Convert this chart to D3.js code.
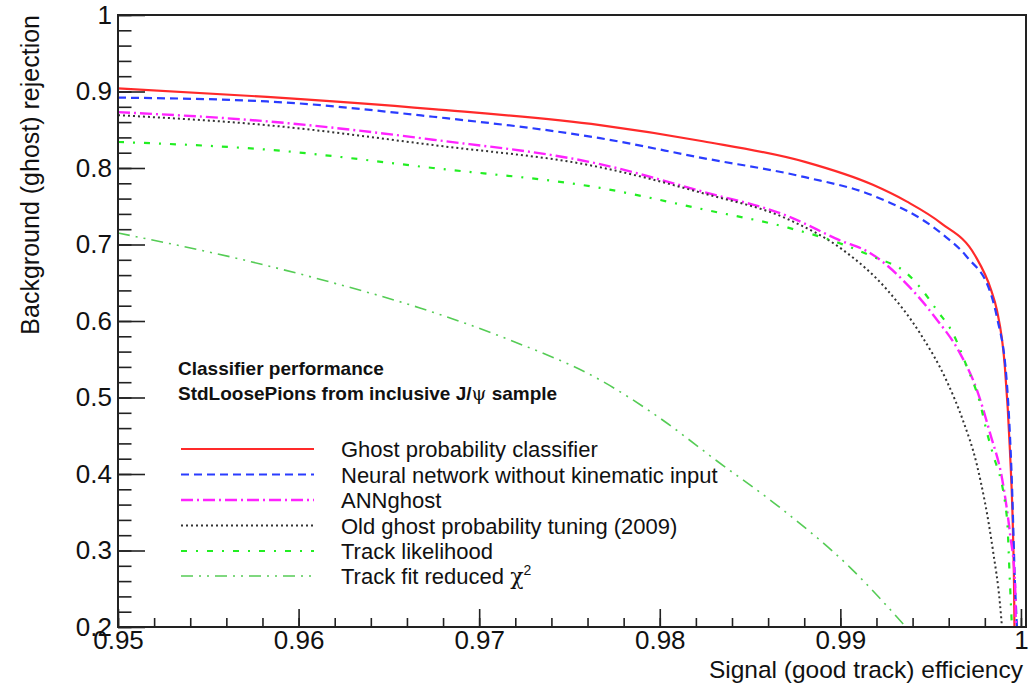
<!DOCTYPE html>
<html>
<head>
<meta charset="utf-8">
<script src="https://cdn.jsdelivr.net/npm/d3@7"></script>
<style>
  html, body { margin: 0; padding: 0; background: #fff; }
  svg { display: block; font-family: "Liberation Sans", Arial, Helvetica, sans-serif; }
</style>
</head>
<body>
<svg id="chart" width="1030" height="683"></svg>
<script>
// ---------------- data ----------------
const xTickValues = [0.95, 0.96, 0.97, 0.98, 0.99, 1.0];
const xTickLabels = ["0.95", "0.96", "0.97", "0.98", "0.99", "1"];
const yTickValues = [0.2, 0.3, 0.4, 0.5, 0.6, 0.7, 0.8, 0.9, 1.0];
const yTickLabels = ["0.2", "0.3", "0.4", "0.5", "0.6", "0.7", "0.8", "0.9", "1"];

const seriesNames = [
  "Ghost probability classifier",
  "Neural network without kinematic input",
  "ANNghost",
  "Old ghost probability tuning (2009)",
  "Track likelihood",
  "Track fit reduced χ2"
];

// Ghost probability classifier
const ghostX = [0.95, 0.95825, 0.96744, 0.97669, 0.98239, 0.98804, 0.99180, 0.99369, 0.99557, 0.99745, 0.99834, 0.99867, 0.99911, 0.99939, 0.99956, 0.99962, 0.99964];
const ghostY = [0.904, 0.893, 0.877, 0.856, 0.835, 0.808, 0.778, 0.756, 0.728, 0.686, 0.641, 0.614, 0.540, 0.431, 0.323, 0.250, 0.200];

// Neural network without kinematic input
const nnX = [0.95, 0.95825, 0.96744, 0.97669, 0.98239, 0.98804, 0.99180, 0.99557, 0.99700, 0.99834, 0.99867, 0.99922, 0.99950, 0.99967, 0.99978];
const nnY = [0.892, 0.887, 0.867, 0.839, 0.813, 0.788, 0.764, 0.715, 0.684, 0.635, 0.605, 0.519, 0.388, 0.257, 0.200];

// ANNghost
const annX = [0.95, 0.95825, 0.96744, 0.97669, 0.98239, 0.98710, 0.98992, 0.99164, 0.99385, 0.99524, 0.99662, 0.99756, 0.99828, 0.99900, 0.99939, 0.99967, 0.99972];
const annY = [0.873, 0.861, 0.837, 0.805, 0.769, 0.737, 0.706, 0.689, 0.644, 0.605, 0.558, 0.510, 0.454, 0.388, 0.323, 0.258, 0.200];

// Old ghost probability tuning (2009)
const oldX = [0.95, 0.95825, 0.96744, 0.97669, 0.98239, 0.98710, 0.99014, 0.99258, 0.99441, 0.99590, 0.99679, 0.99756, 0.99845, 0.99884, 0.99895];
const oldY = [0.869, 0.856, 0.830, 0.801, 0.767, 0.733, 0.693, 0.641, 0.584, 0.521, 0.470, 0.412, 0.300, 0.230, 0.200];

// Track likelihood
const tlX = [0.95, 0.95825, 0.96744, 0.97669, 0.98239, 0.98710, 0.98992, 0.99180, 0.99369, 0.99441, 0.99535, 0.99623, 0.99701, 0.99773, 0.99812, 0.99839, 0.99922, 0.99939, 0.99950];
const tlY = [0.834, 0.824, 0.800, 0.774, 0.746, 0.722, 0.702, 0.684, 0.662, 0.644, 0.614, 0.584, 0.540, 0.493, 0.454, 0.431, 0.344, 0.258, 0.200];

// Track fit reduced chi2
const chiX = [0.95, 0.95692, 0.96174, 0.96672, 0.97171, 0.97669, 0.98001, 0.98317, 0.98666, 0.99053, 0.99363];
const chiY = [0.715, 0.680, 0.651, 0.617, 0.575, 0.523, 0.473, 0.417, 0.356, 0.278, 0.200];

const seriesColors = ["#ff2a2a", "#2a3cff", "#ff22ff", "#333333", "#22ee22", "#55cc55"];
const seriesDash = ["", "8,5", "12,4,2,4", "2,3", "6,9,2,9", "12,6,2,6,2,6"];
const seriesWidth = [2.2, 2.2, 2.4, 2, 2.2, 1.6];

// ---------------- layout ----------------
const svg = d3.select("#chart");
const pLeft = 118, pRight = 1026, pTop = 15, pBottom = 627;
const x = d3.scaleLinear().domain([0.95, 1.00028]).range([pLeft, pRight]);
const y = d3.scaleLinear().domain([0.2, 1.0]).range([pBottom, pTop]);

const allX = [ghostX, nnX, annX, oldX, tlX, chiX];
const allY = [ghostY, nnY, annY, oldY, tlY, chiY];

// clip
svg.append("defs").append("clipPath").attr("id", "clip")
  .append("rect").attr("x", pLeft).attr("y", pTop).attr("width", pRight - pLeft).attr("height", pBottom - pTop);

// curves
const line = d3.line().x(d => x(d[0])).y(d => y(d[1])).curve(d3.curveMonotoneX);
const gLines = svg.append("g").attr("clip-path", "url(#clip)");
allX.forEach((xs, i) => {
  const pts = xs.map((v, j) => [v, allY[i][j]]);
  gLines.append("path")
    .attr("d", line(pts))
    .attr("fill", "none")
    .attr("stroke", seriesColors[i])
    .attr("stroke-width", seriesWidth[i])
    .attr("stroke-dasharray", seriesDash[i] || null);
});

// axes
const axisColor = "#222";
const xMinor = d3.range(0.95, 1.0001, 0.002);
const yMinor = d3.range(0.2, 1.0001, 0.02);

const gxMinor = svg.append("g").attr("transform", `translate(0,${pBottom})`)
  .call(d3.axisBottom(x).tickValues(xMinor).tickSize(-9).tickFormat(""));
const gx = svg.append("g").attr("transform", `translate(0,${pBottom})`)
  .call(d3.axisBottom(x).tickValues(xTickValues).tickSize(-18).tickPadding(4)
    .tickFormat((d, i) => xTickLabels[i]));
const gyMinor = svg.append("g").attr("transform", `translate(${pLeft},0)`)
  .call(d3.axisLeft(y).tickValues(yMinor).tickSize(-13.5).tickFormat(""));
const gy = svg.append("g").attr("transform", `translate(${pLeft},0)`)
  .call(d3.axisLeft(y).tickValues(yTickValues).tickSize(-27).tickPadding(6)
    .tickFormat((d, i) => yTickLabels[i]));

[gxMinor, gx, gyMinor, gy].forEach(g => {
  g.select(".domain").remove();
  g.selectAll(".tick line").attr("stroke", axisColor).attr("stroke-width", 1.6);
  g.selectAll(".tick text").attr("fill", "#111").style("font-size", "26px")
    .style("font-family", '"Liberation Sans", Arial, sans-serif');
});

// frame
svg.append("rect").attr("x", pLeft).attr("y", pTop).attr("width", pRight - pLeft).attr("height", pBottom - pTop)
  .attr("fill", "none").attr("stroke", "#222").attr("stroke-width", 2);

// axis titles
svg.append("text").attr("x", 1023).attr("y", 677.5).attr("text-anchor", "end")
  .style("font-size", "24.5px").attr("fill", "#111").text("Signal (good track) efficiency");
svg.append("text").attr("transform", "translate(39,15) rotate(-90)").attr("text-anchor", "end")
  .style("font-size", "25px").attr("fill", "#111").text("Background (ghost) rejection");

// legend header
svg.append("text").attr("x", 178).attr("y", 375).style("font-size", "19px").style("font-weight", "bold")
  .attr("fill", "#111").text("Classifier performance");
const h2 = svg.append("text").attr("x", 178).attr("y", 400).style("font-size", "19px").style("font-weight", "bold")
  .attr("fill", "#111");
h2.append("tspan").text("StdLoosePions from inclusive J/");
h2.append("tspan").style("font-weight", "normal").style("font-family", '"DejaVu Serif", serif').text("ψ");
h2.append("tspan").text(" sample");

// legend entries
const legendRowY = [449, 474.5, 500, 525.5, 551, 576];
seriesNames.forEach((name, i) => {
  const ry = legendRowY[i];
  svg.append("line").attr("x1", 181).attr("x2", 314).attr("y1", ry).attr("y2", ry)
    .attr("stroke", seriesColors[i]).attr("stroke-width", seriesWidth[i])
    .attr("stroke-dasharray", seriesDash[i] || null);
  const t = svg.append("text").attr("x", 341).attr("y", ry + 8).style("font-size", "22px").attr("fill", "#111");
  if (name.endsWith("χ2")) {
    t.append("tspan").text("Track fit reduced ");
    t.append("tspan").style("font-family", '"DejaVu Serif", serif').text("χ");
    t.append("tspan").attr("dy", -9).style("font-size", "14px").text("2");
  } else {
    t.text(name);
  }
});
</script>
</body>
</html>
